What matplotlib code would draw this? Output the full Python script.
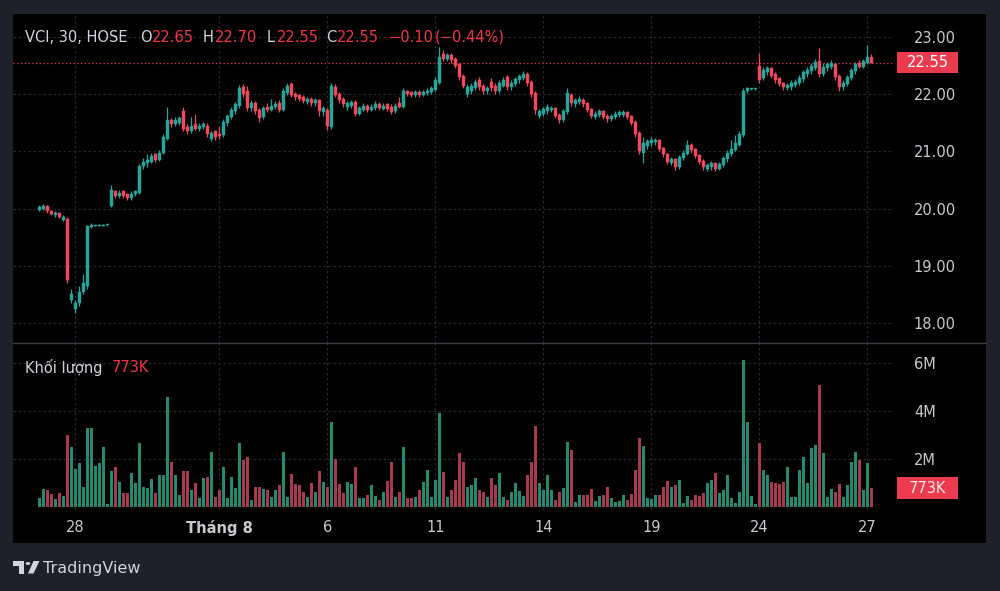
import matplotlib
matplotlib.use("Agg")
import matplotlib.pyplot as plt
from matplotlib.patches import Rectangle, Polygon, Circle
from matplotlib.lines import Line2D
from matplotlib.transforms import blended_transform_factory
import numpy as np

plt.rcParams['font.family'] = ['DejaVu Sans']

# ---------------- data (30-minute bars, VCI / HOSE) ----------------
opens = [
    19.98, 20.00, 20.05, 19.95, 19.88, 19.92, 19.80, 19.82, 18.40,
    18.25, 18.35, 18.55, 18.65, 19.68, 19.70, 19.70, 19.70, 19.71,
    20.05, 20.30, 20.22, 20.30, 20.25, 20.18, 20.25, 20.28, 20.75,
    20.80, 20.82, 20.95, 20.85, 20.98, 21.22, 21.55, 21.48, 21.50,
    21.70, 21.42, 21.35, 21.48, 21.40, 21.42, 21.45, 21.22, 21.35,
    21.30, 21.28, 21.50, 21.60, 21.70, 21.80, 22.12, 22.05, 21.75,
    21.85, 21.72, 21.60, 21.78, 21.72, 21.78, 21.85, 21.72, 22.02,
    22.18, 22.00, 21.98, 21.95, 21.86, 21.92, 21.84, 21.90, 21.68,
    21.72, 21.42, 22.12, 22.00, 21.92, 21.78, 21.80, 21.86, 21.66,
    21.72, 21.80, 21.72, 21.75, 21.82, 21.74, 21.82, 21.78, 21.70,
    21.85, 21.78, 22.05, 22.03, 21.98, 22.04, 21.98, 22.02, 22.04,
    22.08, 22.20, 22.70, 22.62, 22.68, 22.62, 22.52, 22.32, 22.00,
    22.05, 22.10, 22.25, 22.15, 22.05, 22.22, 22.15, 22.05, 22.15,
    22.30, 22.12, 22.18, 22.24, 22.28, 22.36, 22.22, 22.02, 21.62,
    21.66, 21.70, 21.72, 21.76, 21.64, 21.55, 21.68, 21.98, 21.82,
    21.86, 21.90, 21.84, 21.74, 21.60, 21.64, 21.70, 21.62, 21.56,
    21.60, 21.63, 21.64, 21.68, 21.62, 21.52, 21.32, 20.98, 21.10,
    21.15, 21.16, 21.20, 21.06, 20.96, 20.80, 20.86, 20.72, 20.88,
    20.96, 21.12, 21.04, 20.94, 20.84, 20.70, 20.72, 20.80, 20.70,
    20.76, 20.86, 20.95, 21.02, 21.12, 21.28, 22.05, 22.09, 22.09,
    22.50, 22.28, 22.38, 22.45, 22.35, 22.28, 22.20, 22.10, 22.12,
    22.16, 22.20, 22.26, 22.35, 22.40, 22.46, 22.58, 22.35, 22.45,
    22.48, 22.52, 22.32, 22.12, 22.18, 22.28, 22.40, 22.55, 22.48,
    22.55, 22.65,
]
highs = [
    20.06, 20.08, 20.07, 19.97, 19.95, 19.94, 19.88, 19.85, 18.60,
    18.40, 18.65, 18.85, 19.72, 19.74, 19.72, 19.73, 19.73, 19.72,
    20.42, 20.33, 20.32, 20.33, 20.28, 20.30, 20.33, 20.78, 20.88,
    20.95, 20.97, 20.98, 21.02, 21.30, 21.78, 21.58, 21.60, 21.62,
    21.78, 21.48, 21.60, 21.65, 21.50, 21.52, 21.50, 21.36, 21.38,
    21.45, 21.56, 21.66, 21.78, 21.86, 22.16, 22.18, 22.15, 21.90,
    21.88, 21.75, 21.80, 21.85, 21.92, 21.88, 21.90, 22.10, 22.20,
    22.22, 22.04, 22.00, 21.98, 21.95, 21.95, 21.93, 21.92, 21.80,
    21.75, 22.20, 22.18, 22.03, 21.95, 21.88, 21.90, 21.90, 21.80,
    21.84, 21.83, 21.82, 21.88, 21.86, 21.84, 21.85, 21.82, 21.85,
    21.95, 22.10, 22.08, 22.06, 22.07, 22.07, 22.08, 22.10, 22.14,
    22.30, 22.83, 22.78, 22.72, 22.72, 22.65, 22.55, 22.35, 22.18,
    22.20, 22.26, 22.30, 22.18, 22.15, 22.28, 22.20, 22.25, 22.30,
    22.33, 22.24, 22.30, 22.36, 22.40, 22.39, 22.25, 22.05, 21.74,
    21.78, 21.82, 21.80, 21.78, 21.67, 21.74, 22.10, 22.02, 21.94,
    21.96, 21.93, 21.86, 21.76, 21.70, 21.74, 21.72, 21.65, 21.66,
    21.70, 21.72, 21.72, 21.70, 21.64, 21.55, 21.35, 21.25, 21.22,
    21.25, 21.24, 21.22, 21.08, 20.98, 20.90, 20.88, 20.94, 21.02,
    21.20, 21.15, 21.06, 20.96, 20.86, 20.80, 20.84, 20.82, 20.82,
    20.92, 21.02, 21.20, 21.28, 21.35, 22.10, 22.12, 22.11, 22.11,
    22.72, 22.48, 22.50, 22.48, 22.38, 22.30, 22.22, 22.20, 22.24,
    22.26, 22.34, 22.42, 22.48, 22.55, 22.62, 22.80, 22.55, 22.56,
    22.60, 22.55, 22.35, 22.24, 22.34, 22.46, 22.56, 22.60, 22.62,
    22.86, 22.70,
]
lows = [
    19.96, 19.98, 19.93, 19.88, 19.86, 19.83, 19.78, 18.70, 18.35,
    18.17, 18.30, 18.50, 18.60, 19.66, 19.69, 19.69, 19.69, 19.70,
    20.02, 20.18, 20.18, 20.18, 20.15, 20.15, 20.22, 20.25, 20.70,
    20.72, 20.80, 20.82, 20.83, 20.95, 21.20, 21.42, 21.45, 21.47,
    21.35, 21.30, 21.32, 21.37, 21.35, 21.40, 21.25, 21.18, 21.20,
    21.22, 21.25, 21.45, 21.56, 21.66, 21.76, 21.95, 21.70, 21.70,
    21.65, 21.51, 21.57, 21.68, 21.70, 21.74, 21.68, 21.70, 21.98,
    21.95, 21.90, 21.88, 21.84, 21.82, 21.80, 21.80, 21.62, 21.62,
    21.37, 21.40, 21.95, 21.85, 21.78, 21.72, 21.76, 21.62, 21.63,
    21.70, 21.68, 21.70, 21.72, 21.72, 21.72, 21.70, 21.65, 21.67,
    21.75, 21.76, 21.96, 21.95, 21.95, 21.95, 21.96, 21.99, 22.00,
    22.05, 22.18, 22.58, 22.58, 22.55, 22.45, 22.25, 22.10, 21.95,
    22.00, 22.08, 22.08, 22.00, 22.00, 22.05, 22.00, 22.02, 22.12,
    22.08, 22.08, 22.15, 22.20, 22.25, 22.15, 21.95, 21.65, 21.58,
    21.62, 21.66, 21.68, 21.58, 21.50, 21.52, 21.65, 21.80, 21.78,
    21.82, 21.78, 21.68, 21.58, 21.56, 21.60, 21.56, 21.52, 21.53,
    21.57, 21.60, 21.60, 21.56, 21.46, 21.25, 20.95, 20.80, 21.05,
    21.10, 21.12, 21.00, 20.90, 20.78, 20.76, 20.68, 20.70, 20.85,
    20.94, 20.98, 20.88, 20.78, 20.68, 20.66, 20.68, 20.66, 20.67,
    20.73, 20.82, 20.92, 21.00, 21.10, 21.25, 22.02, 22.08, 22.08,
    22.20, 22.25, 22.33, 22.28, 22.20, 22.14, 22.08, 22.07, 22.08,
    22.12, 22.16, 22.22, 22.30, 22.36, 22.42, 22.30, 22.32, 22.40,
    22.44, 22.25, 22.05, 22.08, 22.15, 22.25, 22.36, 22.45, 22.45,
    22.52, 22.55,
]
closes = [
    20.03, 20.05, 19.95, 19.90, 19.92, 19.85, 19.85, 18.75, 18.50,
    18.35, 18.55, 18.70, 19.70, 19.72, 19.71, 19.72, 19.72, 19.71,
    20.32, 20.22, 20.28, 20.22, 20.18, 20.26, 20.30, 20.75, 20.82,
    20.85, 20.92, 20.85, 20.98, 21.25, 21.55, 21.48, 21.55, 21.58,
    21.40, 21.35, 21.45, 21.40, 21.45, 21.48, 21.30, 21.32, 21.25,
    21.27, 21.52, 21.62, 21.72, 21.82, 22.10, 22.00, 21.75, 21.85,
    21.70, 21.58, 21.75, 21.72, 21.80, 21.82, 21.72, 22.05, 22.15,
    21.98, 21.95, 21.92, 21.88, 21.92, 21.84, 21.90, 21.70, 21.75,
    21.45, 22.15, 21.98, 21.90, 21.82, 21.85, 21.86, 21.66, 21.75,
    21.80, 21.72, 21.78, 21.82, 21.75, 21.80, 21.74, 21.68, 21.80,
    21.78, 22.05, 22.00, 21.98, 22.03, 21.98, 22.04, 22.06, 22.10,
    22.25, 22.65, 22.62, 22.68, 22.60, 22.50, 22.30, 22.15, 22.12,
    22.15, 22.22, 22.12, 22.05, 22.10, 22.10, 22.05, 22.20, 22.25,
    22.12, 22.20, 22.26, 22.32, 22.35, 22.20, 22.00, 21.72, 21.70,
    21.74, 21.78, 21.76, 21.62, 21.55, 21.70, 22.02, 21.85, 21.90,
    21.92, 21.82, 21.72, 21.62, 21.66, 21.70, 21.60, 21.56, 21.62,
    21.66, 21.68, 21.68, 21.60, 21.50, 21.30, 21.00, 21.15, 21.18,
    21.20, 21.20, 21.05, 20.95, 20.82, 20.86, 20.72, 20.90, 20.98,
    21.12, 21.02, 20.92, 20.82, 20.72, 20.76, 20.80, 20.70, 20.78,
    20.88, 20.98, 21.05, 21.15, 21.30, 22.05, 22.10, 22.10, 22.10,
    22.25, 22.42, 22.45, 22.32, 22.25, 22.18, 22.12, 22.16, 22.20,
    22.22, 22.28, 22.38, 22.42, 22.50, 22.56, 22.35, 22.48, 22.52,
    22.55, 22.30, 22.12, 22.20, 22.30, 22.42, 22.52, 22.48, 22.58,
    22.65, 22.55,
]
# volume in millions of shares
volumes = [
    0.35, 0.74, 0.70, 0.53, 0.30, 0.55, 0.45, 3.00, 2.50,
    1.55, 1.80, 0.83, 3.26, 3.26, 1.70, 1.80, 2.47, 0.10,
    1.50, 1.67, 1.04, 0.55, 0.55, 1.39, 0.97, 2.64, 0.83,
    0.76, 1.14, 0.55, 1.32, 1.32, 4.56, 1.88, 1.32, 0.49,
    1.49, 1.49, 0.70, 1.00, 0.35, 1.18, 1.25, 2.26, 0.42,
    0.70, 1.64, 0.35, 1.22, 0.79, 2.67, 1.94, 2.08, 0.28,
    0.83, 0.80, 0.72, 0.70, 0.42, 0.70, 0.90, 2.29, 0.39,
    1.36, 0.94, 0.89, 0.60, 0.42, 1.00, 0.62, 1.49, 1.04,
    0.80, 3.54, 1.99, 0.94, 0.58, 1.04, 0.94, 1.64, 0.35,
    0.35, 0.49, 0.90, 0.44, 0.28, 0.62, 1.08, 1.88, 0.39,
    0.62, 2.47, 0.35, 0.35, 0.42, 0.70, 1.04, 1.53, 0.42,
    1.11, 3.92, 1.46, 0.42, 0.70, 1.11, 2.22, 1.88, 0.83,
    0.90, 1.18, 0.70, 0.62, 0.39, 1.18, 0.90, 1.39, 0.42,
    0.28, 0.62, 0.97, 0.67, 0.44, 1.32, 1.88, 3.36, 0.97,
    0.70, 1.32, 0.70, 0.28, 0.62, 0.79, 2.71, 2.36, 0.21,
    0.49, 0.49, 0.49, 0.72, 0.25, 0.44, 0.49, 0.80, 0.35,
    0.21, 0.25, 0.49, 0.28, 0.53, 1.53, 2.85, 2.53, 0.35,
    0.30, 0.49, 0.49, 0.80, 1.08, 0.83, 0.90, 1.11, 0.14,
    0.44, 0.28, 0.49, 0.44, 0.55, 0.97, 1.11, 1.42, 0.55,
    0.70, 1.32, 0.35, 0.17, 0.62, 6.10, 3.54, 0.44, 0.11,
    2.64, 1.53, 1.32, 1.04, 0.97, 0.94, 1.04, 1.67, 0.42,
    0.42, 1.53, 2.06, 0.97, 2.43, 2.57, 5.07, 2.25, 0.42,
    0.72, 0.62, 0.94, 0.42, 0.90, 1.88, 2.29, 1.94, 0.70,
    1.83, 0.773,
]
tick_bars = [9, 45, 72, 99, 126, 153, 180, 207]
tick_labels = ["28", "Tháng 8", "6", "11", "14", "19", "24", "27"]
price_ticks = [18, 19, 20, 21, 22, 23]
volume_ticks = [2, 4, 6]
volume_tick_labels = ["2M", "4M", "6M"]
last_price = 22.55
last_volume = 0.773
header_parts = [("VCI, 30, HOSE", "title"), ("O", "txt"), ("22.65", "red"),
                ("H", "txt"), ("22.70", "red"), ("L", "txt"), ("22.55", "red"),
                ("C", "txt"), ("22.55", "red"), ("\u22120.10", "red"),
                ("(\u22120.44%)", "red")]

# ---------------- style ----------------
W, H = 1000, 591
BG = '#1e2129'
PANEL = '#000000'
UP = '#26a69a'
DOWN = '#f2495c'
VUP = '#238a70'
VDOWN = '#a83a4f'
TXT = '#c8cad0'
GRID = '#26282d'
BOX = '#ec3b4f'

def fx(px):
    return px / W

def fy(py):
    return 1 - py / H

fig = plt.figure(figsize=(W / 100, H / 100), dpi=100)
fig.patch.set_facecolor(BG)

# black chart panel (drawn beneath the axes)
fig.patches.append(Rectangle((fx(13), fy(543)), fx(986) - fx(13), fy(14) - fy(543),
                             transform=fig.transFigure, facecolor=PANEL,
                             edgecolor='none', zorder=-10))

ax_p = fig.add_axes([fx(13), fy(343), fx(893) - fx(13), fy(14) - fy(343)])
ax_v = fig.add_axes([fx(13), fy(510), fx(893) - fx(13), fy(343) - fy(510)])

n = len(closes)
x = np.arange(n)
o = np.array(opens); h = np.array(highs); l = np.array(lows); c = np.array(closes)
up = c >= o
cols = np.where(up, UP, DOWN)
vcols = np.where(up, VUP, VDOWN)

xlim = (-6.575, 213.425)
for ax in (ax_p, ax_v):
    ax.set_facecolor('none')
    ax.set_xlim(*xlim)
    for s in ax.spines.values():
        s.set_visible(False)
    ax.set_xticks([])
    for tb in tick_bars:
        ax.axvline(tb, color=GRID, lw=0.9, ls=(0, (2, 2)), zorder=0)

# price pane
ax_p.set_ylim(17.65, 23.402)
for pt in price_ticks:
    ax_p.axhline(pt, color=GRID, lw=0.9, ls=(0, (2, 2)), zorder=0)
ax_p.vlines(x, l, h, colors=cols, lw=0.9, zorder=2)
body = np.where(np.abs(c - o) < 0.012, 0.012, c - o)
ax_p.bar(x, body, bottom=o, width=0.72, color=cols, edgecolor=cols,
         linewidth=0.3, zorder=3)
ax_p.axhline(last_price, color=BOX, lw=0.9, ls=(0, (1, 2)), zorder=1)
ax_p.yaxis.tick_right()
ax_p.set_yticks(price_ticks)
ax_p.set_yticklabels([f"{v:.2f}" for v in price_ticks])
ax_p.tick_params(axis='y', length=0, pad=15, labelcolor=TXT, labelsize=10.5)

# volume pane
ax_v.set_ylim(-0.1375, 6.82)
for vt in volume_ticks:
    ax_v.axhline(vt, color=GRID, lw=0.9, ls=(0, (2, 2)), zorder=0)
ax_v.bar(x, volumes, width=0.62, color=vcols, linewidth=0, zorder=2)
ax_v.yaxis.tick_right()
ax_v.set_yticks(volume_ticks)
ax_v.set_yticklabels(volume_tick_labels)
ax_v.tick_params(axis='y', length=0, pad=15, labelcolor=TXT, labelsize=10.5)

# separator
fig.lines.append(Line2D([fx(13), fx(986)], [fy(343), fy(343)], transform=fig.transFigure,
                        color='#3a3d46', lw=1.0))

# last price / volume boxes
tr_p = blended_transform_factory(fig.transFigure, ax_p.transData)
ax_p.add_patch(Rectangle((fx(897), last_price - 10.5 / 57.2), fx(958) - fx(897), 21 / 57.2,
                         transform=tr_p, facecolor=BOX, edgecolor='none', clip_on=False, zorder=5))
ax_p.text(fx(927.5), last_price, f"{last_price:.2f}", transform=tr_p, ha='center', va='center',
          color='white', fontsize=10.5, zorder=6, clip_on=False)
tr_v = blended_transform_factory(fig.transFigure, ax_v.transData)
ax_v.add_patch(Rectangle((fx(897), last_volume - 11 / 24.0), fx(958) - fx(897), 22 / 24.0,
                         transform=tr_v, facecolor=BOX, edgecolor='none', clip_on=False, zorder=5))
ax_v.text(fx(927.5), last_volume, f"{last_volume * 1000:.0f}K", transform=tr_v, ha='center',
          va='center', color='#f3e6e8', fontsize=10.5, zorder=6, clip_on=False)

# x labels
tr_x = blended_transform_factory(ax_v.transData, fig.transFigure)
for tb, lab in zip(tick_bars, tick_labels):
    bold = lab.startswith("Th")
    ax_v.text(tb, fy(527.5), lab, transform=tr_x, ha='center', va='center', color=TXT,
              fontsize=10.5, fontweight='bold' if bold else 'normal', clip_on=False)

# header
hx = [25, 140, 152, 203, 215, 267, 277, 326, 337, 388, 435]
colmap = {"title": '#d1d4dc', "txt": '#d1d4dc', "red": '#f23645'}
for (t, kind), px in zip(header_parts, hx):
    fig.text(fx(px), fy(37), t, ha='left', va='center', color=colmap[kind], fontsize=10.5)

fig.text(fx(25), fy(368), "Khối lượng", ha='left', va='center', color='#d1d4dc', fontsize=10.5)
fig.text(fx(112), fy(368), f"{last_volume * 1000:.0f}K", ha='left', va='center',
         color='#f23645', fontsize=10.5)

# TradingView logo
LOGO = '#d1d4dc'
pts1 = [(13, 561), (24, 561), (24, 573.5), (19, 573.5), (19, 566), (13, 566)]
fig.patches.append(Polygon([(fx(a), fy(b)) for a, b in pts1], closed=True,
                           transform=fig.transFigure, facecolor=LOGO, edgecolor='none'))
fig.patches.append(Circle((fx(28), fy(563.5)), 2.4 / W, transform=fig.transFigure,
                          facecolor=LOGO, edgecolor='none'))
pts2 = [(33.5, 561), (39.5, 561), (33.5, 573.5), (28, 573.5)]
fig.patches.append(Polygon([(fx(a), fy(b)) for a, b in pts2], closed=True,
                           transform=fig.transFigure, facecolor=LOGO, edgecolor='none'))
fig.text(fx(43), fy(568), "TradingView", ha='left', va='center', color=LOGO,
         fontsize=11.5, fontweight='medium')

fig.savefig("out.png", dpi=100, facecolor=fig.get_facecolor())
